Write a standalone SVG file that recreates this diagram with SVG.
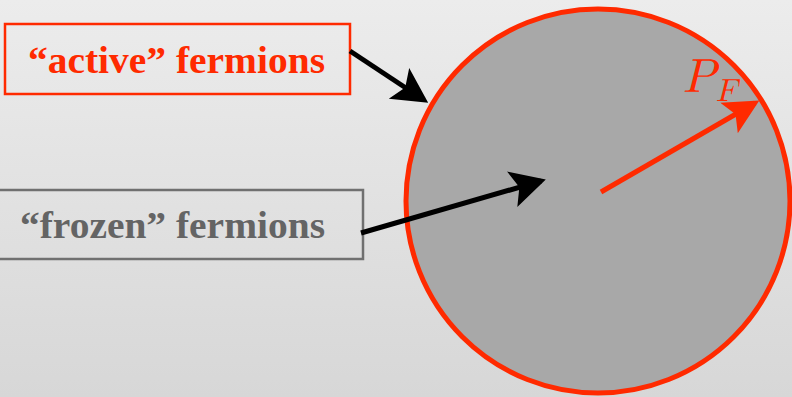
<svg xmlns="http://www.w3.org/2000/svg" width="792" height="397" viewBox="0 0 792 397">
<defs>
<linearGradient id="bg" x1="0" y1="0" x2="0" y2="1">
<stop offset="0" stop-color="#ececec"/>
<stop offset="1" stop-color="#d7d7d7"/>
</linearGradient>
<marker id="ahb" markerWidth="8" markerHeight="8" refX="6" refY="4" orient="auto" markerUnits="strokeWidth">
<path d="M0,0.3 L7,4 L0,7.7 L1.5,4 Z" fill="#000"/>
</marker>
<marker id="ahr" markerWidth="8" markerHeight="8" refX="6" refY="4" orient="auto" markerUnits="strokeWidth">
<path d="M0,0.5 L7,4 L0,7.5 L1.5,4 Z" fill="#ff2a00"/>
</marker>
</defs>
<style>
.lbl{font-family:"Liberation Serif","Times New Roman",serif;font-weight:bold;font-size:37px}
.conn{fill:none;stroke:#000;stroke-width:5}
</style>
<rect x="0" y="0" width="792" height="397" fill="url(#bg)"/>
<g id="sphere">
<circle cx="598" cy="201" r="192" fill="#a8a8a8" stroke="#ff2a00" stroke-width="5"/>
<line x1="601" y1="192" x2="755" y2="103" stroke="#ff2a00" stroke-width="5" marker-end="url(#ahr)"/>
<text x="683" y="92" font-family="'Latin Modern Math','DejaVu Serif','Liberation Serif',serif" font-style="italic" font-size="48" fill="#ff2a00">P<tspan x="716" y="101" font-size="32">F</tspan></text>
</g>
<g id="active">
<rect x="5" y="24" width="345" height="70" fill="none" stroke="#ff2a00" stroke-width="2.5"/>
<text class="lbl" x="28" y="73" fill="#ff2a00" textLength="297" lengthAdjust="spacingAndGlyphs">“active” fermions</text>
</g>
<g id="frozen">
<rect x="-5" y="190" width="368" height="69" fill="none" stroke="#707070" stroke-width="2.5"/>
<text class="lbl" x="20" y="238" fill="#646464" textLength="305" lengthAdjust="spacingAndGlyphs">“frozen” fermions</text>
</g>
<g id="connectors">
<line class="conn" x1="350" y1="51" x2="424" y2="100" marker-end="url(#ahb)"/>
<line class="conn" x1="361" y1="233" x2="541" y2="181" marker-end="url(#ahb)"/>
</g>
</svg>
